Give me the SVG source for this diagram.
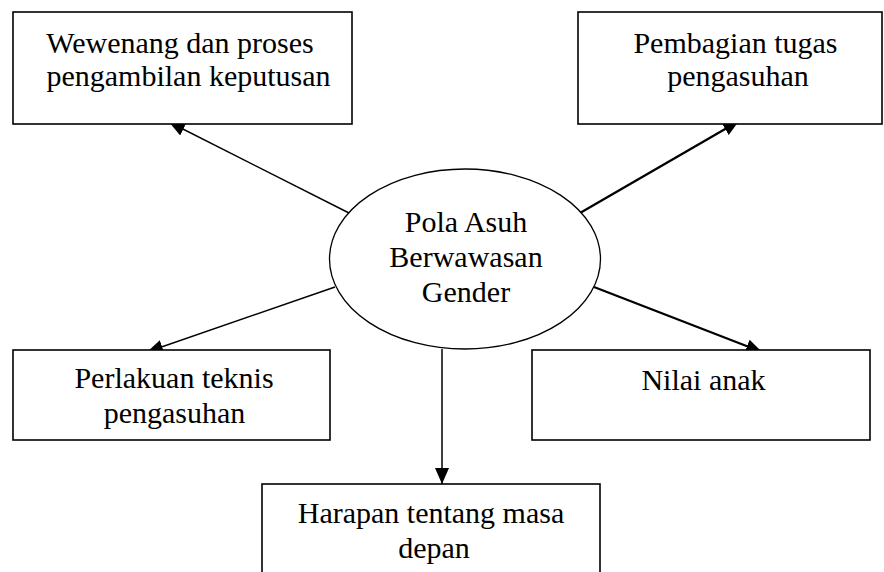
<svg xmlns="http://www.w3.org/2000/svg" width="884" height="572" viewBox="0 0 884 572">
  <style>
    .box { fill: #ffffff; stroke: #000000; stroke-width: 1.6; }
    .ell { fill: #ffffff; stroke: #000000; stroke-width: 1.3; }
    .lbl { font-family: "Liberation Serif", "Times New Roman", serif; font-size: 30px; fill: #000000; text-anchor: middle; }
    .conn { stroke: #000000; stroke-width: 1.5; fill: none; marker-end: url(#ah); }
    .thick { stroke-width: 2.3; }
  </style>
  <defs>
    <marker id="ah" markerUnits="userSpaceOnUse" viewBox="0 0 16 14" markerWidth="16" markerHeight="14" refX="16" refY="7" orient="auto">
      <path d="M0,0 L16,7 L0,14 Z" fill="#000000"/>
    </marker>
  </defs>

  <g id="connectors">
    <line class="conn" x1="349" y1="213" x2="169" y2="122"/>
    <line class="conn thick" x1="580" y1="213" x2="739" y2="121"/>
    <line class="conn" x1="335" y1="287" x2="147" y2="352"/>
    <line class="conn thick" x1="594" y1="287" x2="762" y2="352"/>
    <line class="conn" x1="442" y1="349" x2="442" y2="484"/>
  </g>

  <g id="node-center">
    <ellipse class="ell" cx="465" cy="259" rx="135.5" ry="90"/>
    <text class="lbl" x="466" y="232">Pola Asuh</text>
    <text class="lbl" x="466" y="267">Berwawasan</text>
    <text class="lbl" x="466" y="302">Gender</text>
  </g>

  <g id="node-wewenang">
    <rect class="box" x="13" y="12" width="339" height="112"/>
    <text class="lbl" x="180" y="53">Wewenang dan proses</text>
    <text class="lbl" x="188.5" y="86">pengambilan keputusan</text>
  </g>

  <g id="node-pembagian">
    <rect class="box" x="578" y="12" width="304" height="112"/>
    <text class="lbl" x="735.5" y="53">Pembagian tugas</text>
    <text class="lbl" x="738" y="86">pengasuhan</text>
  </g>

  <g id="node-perlakuan">
    <rect class="box" x="13" y="350" width="317" height="90"/>
    <text class="lbl" x="174" y="388">Perlakuan teknis</text>
    <text class="lbl" x="174.5" y="423">pengasuhan</text>
  </g>

  <g id="node-nilai">
    <rect class="box" x="532" y="350" width="338" height="90"/>
    <text class="lbl" x="703.5" y="390">Nilai anak</text>
  </g>

  <g id="node-harapan">
    <rect class="box" x="262" y="484" width="338" height="110"/>
    <text class="lbl" x="431" y="523">Harapan tentang masa</text>
    <text class="lbl" x="434" y="558">depan</text>
  </g>
</svg>
